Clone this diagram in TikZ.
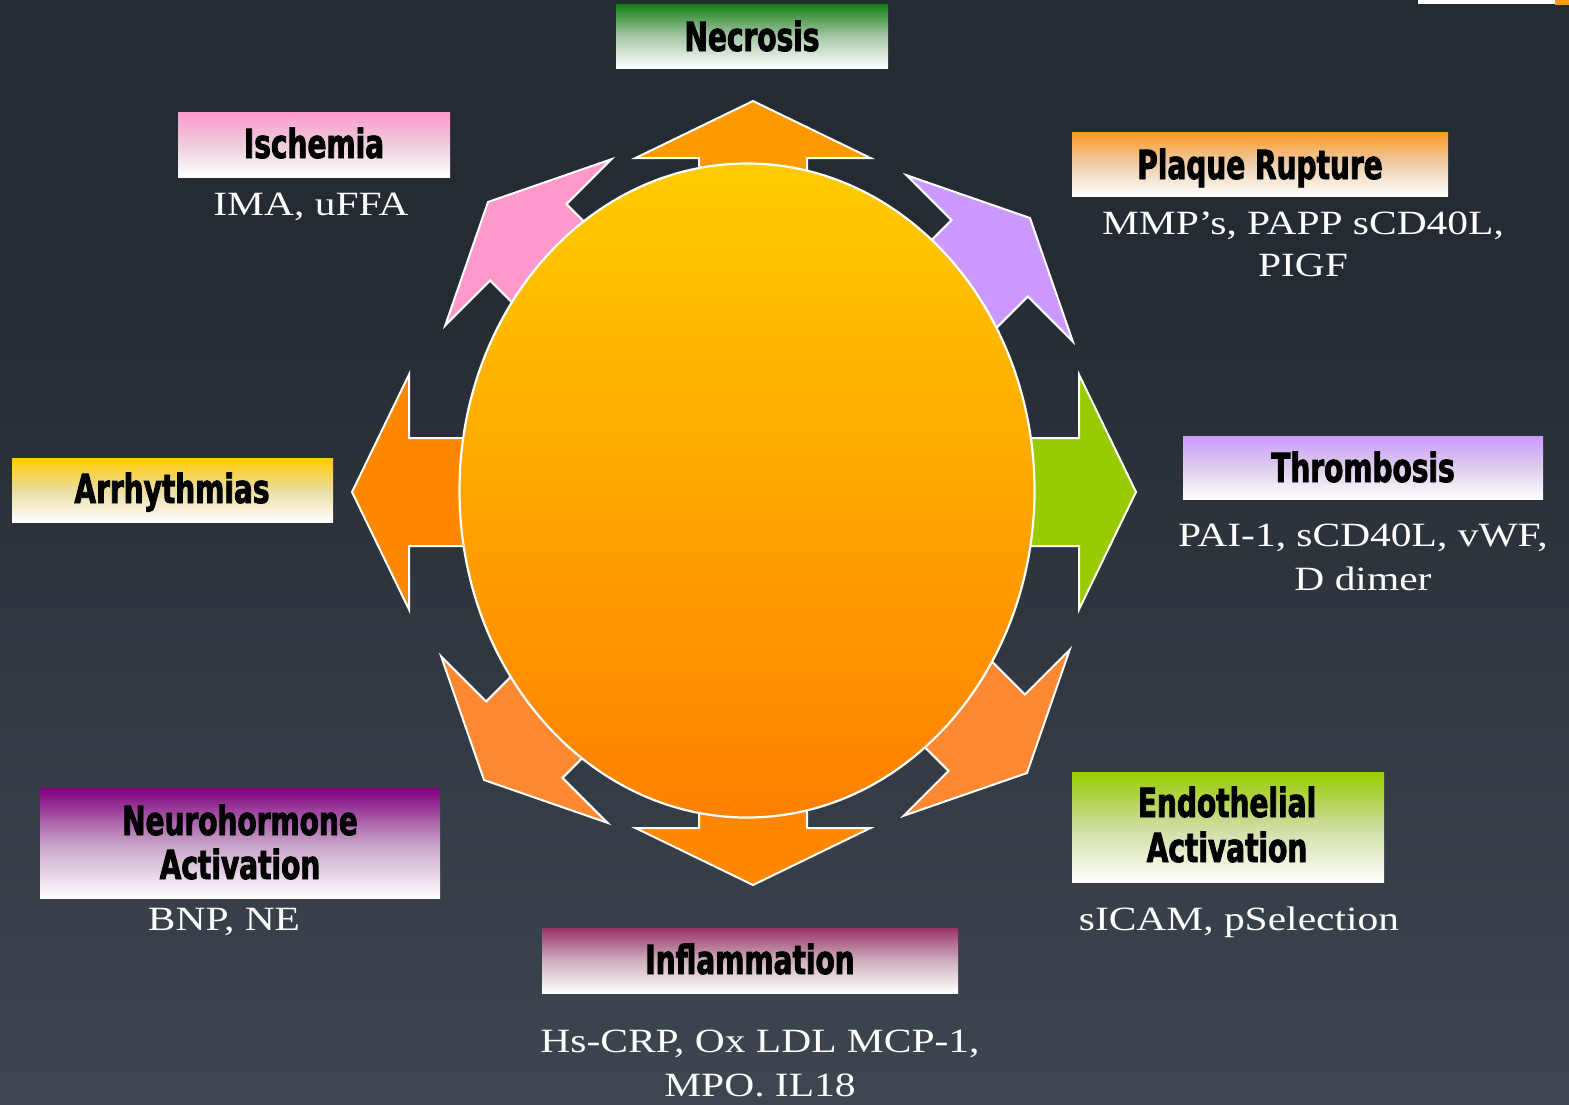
\documentclass[tikz,border=0pt]{standalone}
\usepackage{fontspec}
\usetikzlibrary{shapes.geometric}
\newfontfamily\headfont[FakeStretch=0.7,FakeBold=2]{DejaVu Sans}
\newfontfamily\bodyfont[FakeStretch=1.22]{Liberation Serif}
\definecolor{bgtop}{RGB}{37,43,51}
\definecolor{bgbot}{RGB}{78,88,98}
\definecolor{ellyel}{RGB}{255,204,0}
\definecolor{ellorg}{RGB}{255,128,0}
\definecolor{arrUp}{RGB}{255,153,0}
\definecolor{arrSide}{RGB}{255,136,0}
\definecolor{arrDiag}{RGB}{255,136,51}
\definecolor{arrPink}{RGB}{255,153,204}
\definecolor{arrPurple}{RGB}{204,153,255}
\definecolor{arrGreen}{RGB}{153,204,0}
\definecolor{cNecro}{RGB}{20,128,20}
\definecolor{cIsch}{RGB}{255,153,204}
\definecolor{cPlaque}{RGB}{255,153,34}
\definecolor{cThromb}{RGB}{204,153,255}
\definecolor{cArr}{RGB}{255,204,0}
\definecolor{cNeuro}{RGB}{128,0,128}
\definecolor{cEndo}{RGB}{153,204,0}
\definecolor{cInfl}{RGB}{153,51,102}
\pgfdeclareverticalshading{bgshade}{100bp}{color(0bp)=(bgbot); color(62bp)=(bgtop); color(100bp)=(bgtop)}
\newcommand{\blockarr}[4]{%
  \begin{scope}[shift={(#1,#2)},rotate=#3]
    \draw[arrline,fill=#4] (0,0) -- (-57,117.5) -- (-57,54) -- (-260,54) -- (-260,-54) -- (-57,-54) -- (-57,-117.5) -- cycle;
  \end{scope}}
\tikzset{
  arrline/.style={draw=white,line width=2pt,line join=miter},
  lbox/.style={rectangle,inner sep=0pt,outer sep=0pt,top color=#1,bottom color=white,middle color=#1!35!white!85!gray},
  head/.style={anchor=base,inner sep=0pt,text=black,font=\headfont\bfseries\fontsize{40}{44}\selectfont},
  body/.style={anchor=base,inner sep=0pt,text=white,font=\bodyfont\fontsize{34}{43}\selectfont}
}
\begin{document}
\begin{tikzpicture}[x=1pt,y=-1pt]
\useasboundingbox (0,0) rectangle (1569,1104);
\shade[shading=bgshade] (0,0) rectangle (1569,1104);
\fill[white] (1418,0) rectangle (1555,4);
\fill[cPlaque] (1555,0) rectangle (1569,5);
% arrows
\blockarr{753}{101}{90}{arrUp}
\blockarr{753}{885}{270}{arrSide}
\blockarr{352}{492}{180}{arrSide}
\blockarr{1136}{492}{0}{arrGreen}
\blockarr{488}{202}{135}{arrPink}
\blockarr{1030}{218}{45}{arrPurple}
\blockarr{484}{780}{225}{arrDiag}
\blockarr{1027}{773}{315}{arrDiag}
% central ellipse
\node[ellipse,draw=white,line width=2.2pt,inner sep=0pt,minimum width=575pt,minimum height=654pt,top color=ellyel,bottom color=ellorg] (core) at (747,490.5) {};
% label boxes
\path[lbox=cNecro] (616,4) rectangle (888,68) node[midway] (necrosis) {};
\path[lbox=cIsch] (178,112) rectangle (450,177) node[midway] (ischemia) {};
\path[lbox=cPlaque] (1072,132) rectangle (1448,196) node[midway] (plaque) {};
\path[lbox=cThromb] (1183,436) rectangle (1543,499) node[midway] (thromb) {};
\path[lbox=cArr] (12,458) rectangle (333,522) node[midway] (arrhy) {};
\path[lbox=cNeuro] (40,788) rectangle (440,898) node[midway] (neuro) {};
\path[lbox=cEndo] (1072,772) rectangle (1384,882) node[midway] (endo) {};
\path[lbox=cInfl] (542,928) rectangle (958,993) node[midway] (inflam) {};
% head texts
\node[head] (tNecro) at (752,51) {Necrosis};
\node[head] (tIsch) at (314,158) {Ischemia};
\node[head] (tPlaque) at (1260,179) {Plaque Rupture};
\node[head] (tThromb) at (1363,482) {Thrombosis};
\node[head] (tArr) at (172,503) {Arrhythmias};
\node[head] (tNeuro1) at (240,835) {Neurohormone};
\node[head] (tNeuro2) at (240,879) {Activation};
\node[head] (tEndo1) at (1227,817) {Endothelial};
\node[head] (tEndo2) at (1227,862) {Activation};
\node[head] (tInfl) at (750,974) {Inflammation};
% body texts
\node[body] (bIsch) at (311,215) {IMA, uFFA};
\node[body] (bPlaque1) at (1303,234) {MMP’s, PAPP sCD40L,};
\node[body] (bPlaque2) at (1303,276) {PIGF};
\node[body] (bThromb1) at (1363,546) {PAI-1, sCD40L, vWF,};
\node[body] (bThromb2) at (1363,590) {D dimer};
\node[body] (bNeuro) at (224,930) {BNP, NE};
\node[body] (bEndo) at (1239,930) {sICAM, pSelection};
\node[body] (bInfl1) at (760,1052) {Hs-CRP, Ox LDL MCP-1,};
\node[body] (bInfl2) at (760,1096) {MPO. IL18};
\end{tikzpicture}
\end{document}
